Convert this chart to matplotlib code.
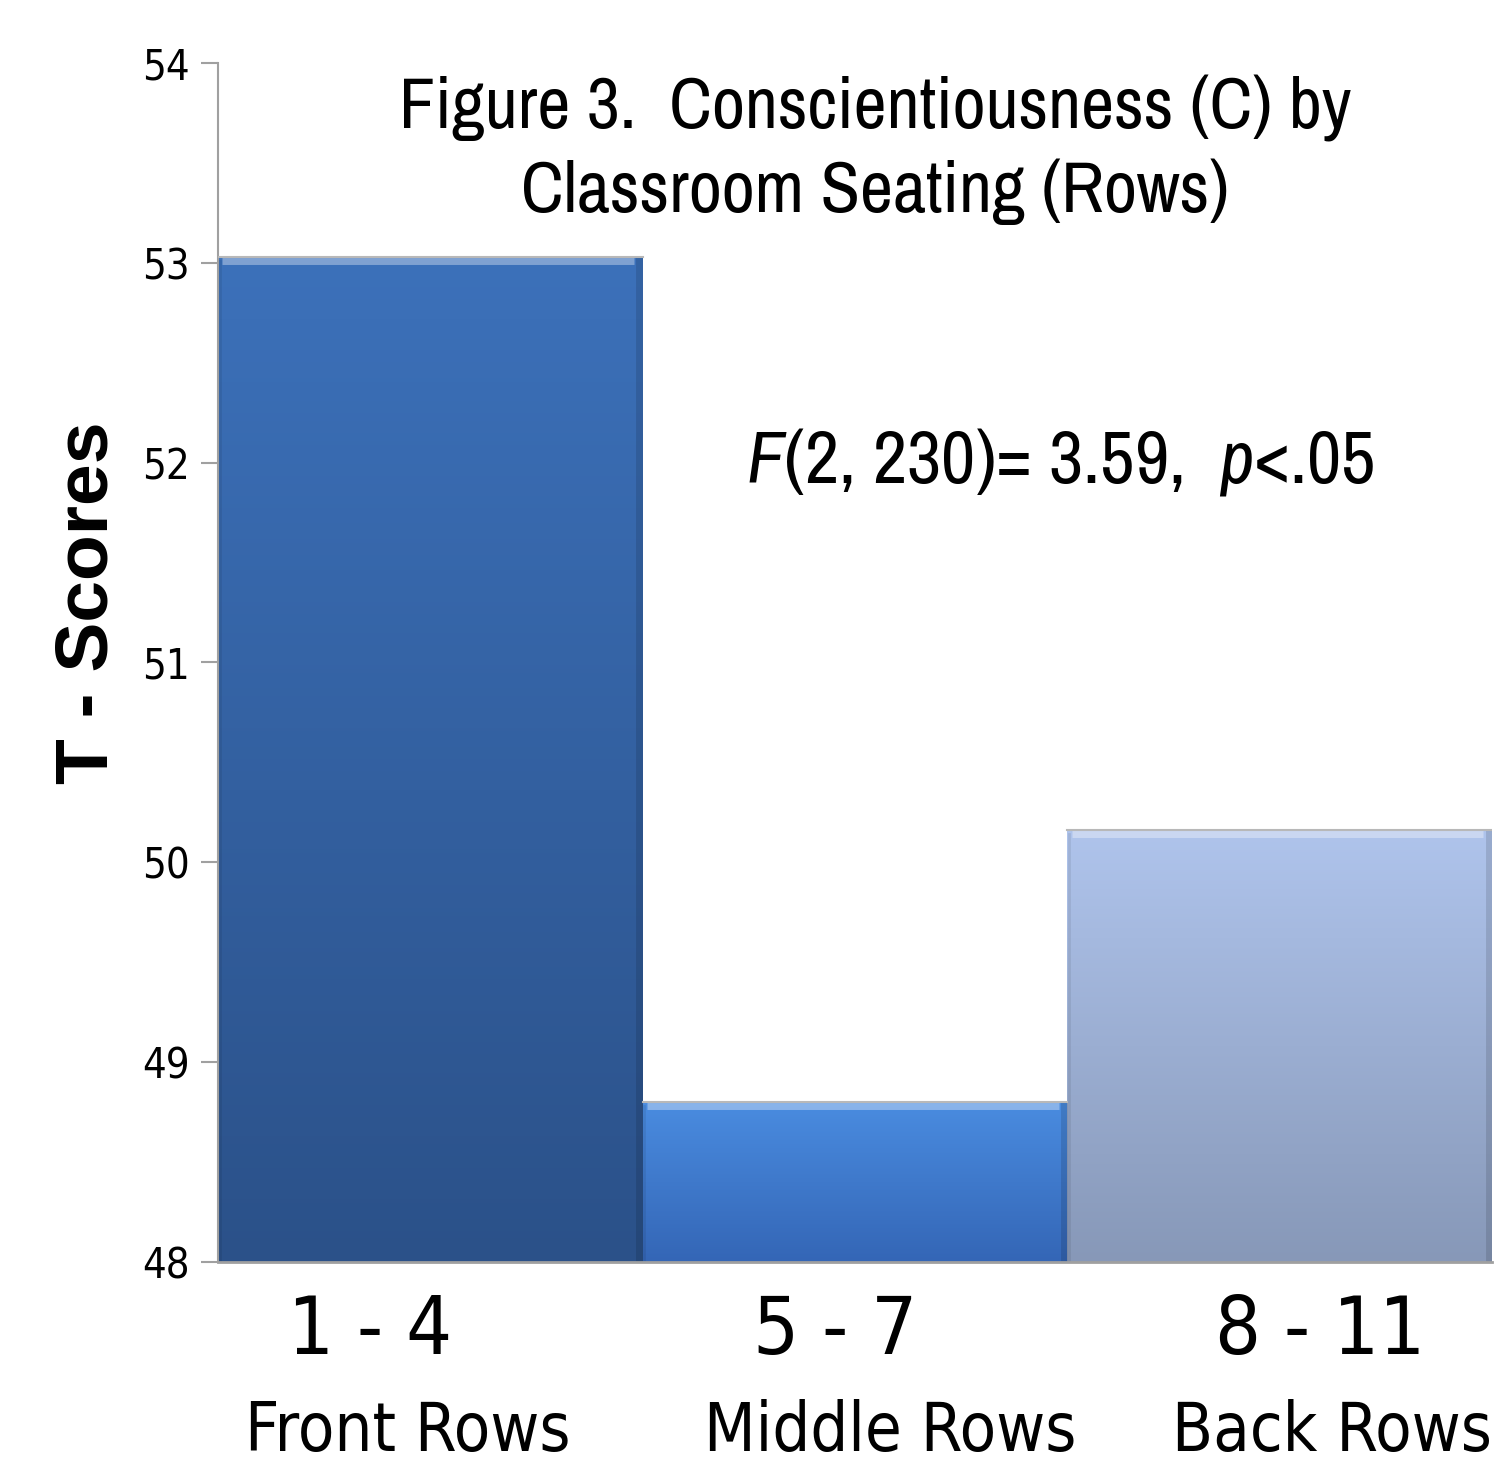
import matplotlib
matplotlib.use("Agg")
import matplotlib.pyplot as plt
import numpy as np
from matplotlib.colors import LinearSegmentedColormap

NARROW = "Archivo Narrow"
plt.rcParams["mathtext.fontset"] = "custom"
plt.rcParams["mathtext.it"] = NARROW + ":italic"
plt.rcParams["mathtext.rm"] = NARROW

# T-score means by seating group
ranges = ["1 - 4", "5 - 7", "8 - 11"]
groups = ["Front Rows", "Middle Rows", "Back Rows"]
means = [53.03, 48.8, 50.16]
baseline = 48
yticks = [48, 49, 50, 51, 52, 53, 54]

# top / bottom colours of each bar's gradient
tops = ["#3c71ba", "#4a8ce0", "#afc4ec"]
bottoms = ["#2b5189", "#3466b6", "#8798b8"]

fig = plt.figure(figsize=(14.99, 14.67), dpi=100)
ax = fig.add_axes([0.1454, 0.1397, 0.8499, 0.8174])

x = np.arange(len(means))
bars = ax.bar(x, [m - baseline for m in means], width=1.0, bottom=baseline,
              color="none", edgecolor="none")
ax.set_xlim(-0.5, 2.5)
ax.set_ylim(48, 54)

for b, top, bot in zip(bars, tops, bottoms):
    x0, y0 = b.get_x(), b.get_y()
    w, h = b.get_width(), b.get_height()
    cmap = LinearSegmentedColormap.from_list("g", [bot, top])
    grad = np.linspace(0, 1, 256).reshape(-1, 1)
    im = ax.imshow(grad, cmap=cmap, origin="lower", aspect="auto",
                   extent=[x0, x0 + w, y0, y0 + h], zorder=2)
    im.set_clip_path(b)
    # light rim along the top edge, darker shade on the sides
    ax.plot([x0 + 0.01, x0 + w - 0.02], [y0 + h - 0.02] * 2, color="white",
            alpha=0.35, lw=5, zorder=3, solid_capstyle="butt")
    ax.plot([x0, x0 + w], [y0 + h] * 2, color="#b8b8b8", lw=1.5, zorder=3)
    ax.plot([x0 + w - 0.008] * 2, [y0, y0 + h - 0.02], color="black",
            alpha=0.12, lw=5, zorder=3)
    ax.plot([x0 + 0.004] * 2, [y0, y0 + h - 0.02], color="black",
            alpha=0.08, lw=2, zorder=3)
ax.set_aspect("auto")

for s in ["top", "right"]:
    ax.spines[s].set_visible(False)
ax.spines["left"].set_color("#a0a0a0")
ax.spines["bottom"].set_color("#a0a0a0")
ax.spines["left"].set_linewidth(1.5)
ax.spines["bottom"].set_linewidth(2)
ax.spines["bottom"].set_zorder(4)

ax.set_yticks(yticks)
ax.set_yticklabels([str(t) for t in yticks], fontsize=30,
                   family="DejaVu Sans", fontstretch="condensed")
ax.tick_params(axis="y", length=12, width=1.5, color="#a0a0a0", pad=8)
ax.set_xticks([])

ax.set_ylabel("T - Scores", fontsize=54, fontweight="bold",
              family="Liberation Sans")
ax.yaxis.set_label_coords(-0.075, 0.55)

# category labels, two lines each
range_x = [370, 835, 1320]
group_x = [408, 890, 1332]
for r, g, rx, gx in zip(ranges, groups, range_x, group_x):
    fig.text(rx / 1499, 1 - 1332 / 1467, r, ha="center", va="center",
             fontsize=58, family="DejaVu Sans", fontstretch="condensed")
    fig.text(gx / 1499, 1 - 1432 / 1467, g, ha="center", va="center",
             fontsize=48, family="DejaVu Sans", fontstretch="condensed")

fig.text(875 / 1499, 1 - 150 / 1467,
         "Figure 3.  Conscientiousness (C) by\nClassroom Seating (Rows)",
         ha="center", va="center", fontsize=52, family=NARROW, linespacing=1.3)

fig.text(1060 / 1499, 1 - 462 / 1467,
         r"$F$(2, 230)= 3.59,  $p$<.05",
         ha="center", va="center", fontsize=54, family=NARROW)

fig.savefig("out.png", dpi=100)
